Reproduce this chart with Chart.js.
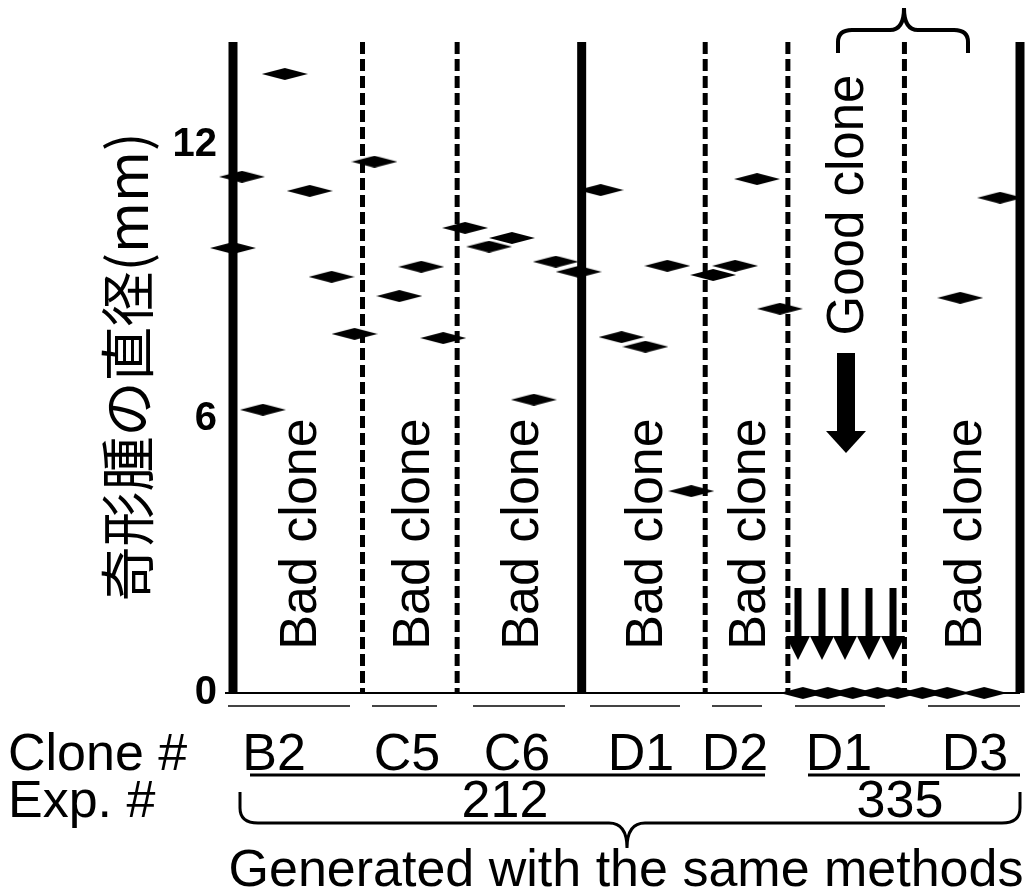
<!DOCTYPE html>
<html>
<head>
<meta charset="utf-8">
<script src="https://cdn.jsdelivr.net/npm/chart.js@4.4.1/dist/chart.umd.min.js"></script>
<style>
  html, body { margin: 0; padding: 0; background: #fff; }
</style>
</head>
<body>
<canvas id="grafico" width="1027" height="896"></canvas>
<script>
// clones, left to right
var clones = ['B2', 'C5', 'C6', 'D1', 'D2', 'D1', 'D3'];
var laneLabels = ['Bad clone', 'Bad clone', 'Bad clone', 'Bad clone', 'Bad clone', 'Good clone', 'Bad clone'];
var experiments = ['212', '335'];
var laneEdges = [0, 13, 22.5, 35, 47.4, 55.7, 67.4, 79];
var yTicks = [0, 6, 12];

// tumour diameter (mm) per mouse; x = spot inside the lane
var tumorX = [
  5.2, 0.9, 7.7, 0.0, 9.9, 12.2, 3.0,          // B2
  14.2, 16.7, 18.9, 21.1,                      // C5
  23.3, 28.0, 25.7, 32.4, 34.7, 30.2,          // C6
  36.9, 39.0, 41.4, 43.6, 46.0,                // D1
  48.2, 50.4, 52.6, 54.9,                      // D2
  57.2, 59.7, 62.2, 64.7, 66.7,                // D1 (335)
  69.2, 71.7, 75.4, 73.0, 77.0                 // D3
];
var tumorY = [
  13.55, 11.3, 10.99, 9.74, 9.11, 7.86, 6.2,
  11.63, 8.69, 9.33, 7.77,
  10.18, 9.96, 9.77, 9.44, 9.22, 6.42,
  11.01, 7.79, 7.58, 9.35, 4.42,
  9.15, 9.35, 11.25, 8.41,
  0, 0, 0, 0, 0,
  0, 0, 0, 8.65, 10.84
];

function makeDiamond(w, h) {
  var c = document.createElement('canvas');
  c.width = w; c.height = h;
  var g = c.getContext('2d');
  g.fillStyle = '#000';
  g.beginPath();
  g.moveTo(0, h / 2);
  g.lineTo(w / 2, 0);
  g.lineTo(w, h / 2);
  g.lineTo(w / 2, h);
  g.closePath();
  g.fill();
  return c;
}

function rotatedText(ctx, text, cx, cy, size) {
  ctx.save();
  ctx.translate(cx, cy);
  ctx.rotate(-Math.PI / 2);
  ctx.font = size + 'px "Liberation Sans", Arial, sans-serif';
  ctx.textAlign = 'center';
  ctx.textBaseline = 'alphabetic';
  ctx.fillText(text, 0, size * 0.36);
  ctx.restore();
}

function plainText(ctx, text, x, y, align) {
  ctx.textAlign = align;
  ctx.fillText(text, x, y);
}

// lanes: solid and dashed separators, baseline, labels
var lanePlugin = {
  id: 'lanes',
  beforeDatasetsDraw: function (chart) {
    var ctx = chart.ctx, xs = chart.scales.x, ys = chart.scales.y;
    var top = chart.chartArea.top, bottom = ys.getPixelForValue(0);
    ctx.save();
    ctx.strokeStyle = '#000';
    // baseline at 0
    ctx.lineWidth = 2;
    ctx.beginPath();
    ctx.moveTo(xs.getPixelForValue(laneEdges[0]) - 8, bottom);
    ctx.lineTo(xs.getPixelForValue(laneEdges[laneEdges.length - 1]), bottom);
    ctx.stroke();
    laneEdges.forEach(function (v, i) {
      var px = xs.getPixelForValue(v);
      var solid = (i === 0 || i === 3 || i === laneEdges.length - 1);
      ctx.beginPath();
      if (solid) { ctx.setLineDash([]); ctx.lineWidth = 9; }
      else { ctx.setLineDash([12, 5]); ctx.lineWidth = 5; }
      ctx.moveTo(px, top);
      ctx.lineTo(px, bottom);
      ctx.stroke();
    });
    ctx.setLineDash([]);
    // faint underline pieces under the axis
    ctx.strokeStyle = '#444';
    ctx.lineWidth = 2;
    [[228, 350], [372, 437], [473, 565], [590, 680], [712, 762], [795, 885], [928, 1020]].forEach(function (s) {
      ctx.beginPath();
      ctx.moveTo(s[0], bottom + 13);
      ctx.lineTo(s[1], bottom + 13);
      ctx.stroke();
    });
    ctx.restore();
  },
  afterDraw: function (chart) {
    var ctx = chart.ctx, xs = chart.scales.x;
    ctx.save();
    ctx.fillStyle = '#000';
    ctx.strokeStyle = '#000';

    // y axis title
    ctx.save();
    ctx.translate(127, 367);
    ctx.rotate(-Math.PI / 2);
    ctx.font = '55px "Noto Sans CJK JP", sans-serif';
    ctx.textAlign = 'center';
    ctx.textBaseline = 'middle';
    ctx.fillText('奇形腫の直径(mm)', 0, 0);
    ctx.restore();

    // lane labels
    laneLabels.forEach(function (t, i) {
      var cx = (xs.getPixelForValue(laneEdges[i]) + xs.getPixelForValue(laneEdges[i + 1])) / 2;
      if (t === 'Good clone') rotatedText(ctx, t, cx - 2, 205, 51);
      else rotatedText(ctx, t, cx, 534, 52);
    });

    // big arrow under "Good clone"
    ctx.fillRect(837, 353, 18, 80);
    ctx.beginPath();
    ctx.moveTo(826, 431); ctx.lineTo(866, 431); ctx.lineTo(846, 453); ctx.closePath();
    ctx.fill();

    // five small arrows pointing to the zero tumours
    [798, 822, 845, 869, 893].forEach(function (x) {
      ctx.fillRect(x - 3.5, 588, 7, 50);
      ctx.beginPath();
      ctx.moveTo(x - 12, 636); ctx.lineTo(x + 12, 636); ctx.lineTo(x, 660); ctx.closePath();
      ctx.fill();
    });

    // top brace
    ctx.lineWidth = 4;
    ctx.beginPath();
    ctx.moveTo(838, 53);
    ctx.lineTo(838, 42);
    ctx.quadraticCurveTo(838, 30, 852, 30);
    ctx.lineTo(890, 30);
    ctx.quadraticCurveTo(904, 30, 904, 8);
    ctx.quadraticCurveTo(904, 30, 918, 30);
    ctx.lineTo(954, 30);
    ctx.quadraticCurveTo(968, 30, 968, 42);
    ctx.lineTo(968, 53);
    ctx.stroke();

    // bottom labels
    ctx.font = '52px "Liberation Sans", Arial, sans-serif';
    ctx.textBaseline = 'alphabetic';
    plainText(ctx, 'Clone #', 8, 770, 'left');
    plainText(ctx, 'Exp. #', 8, 817, 'left');
    var cloneX = [274, 407, 517, 641, 735, 839, 975];
    clones.forEach(function (c, i) { plainText(ctx, c, cloneX[i], 770, 'center'); });
    plainText(ctx, experiments[0], 505, 817, 'center');
    plainText(ctx, experiments[1], 900, 817, 'center');

    ctx.lineWidth = 3;
    ctx.beginPath();
    ctx.moveTo(250, 775); ctx.lineTo(765, 775);
    ctx.moveTo(808, 775); ctx.lineTo(1020, 775);
    ctx.stroke();

    // bottom brace
    ctx.lineWidth = 3;
    ctx.beginPath();
    ctx.moveTo(240, 792);
    ctx.lineTo(240, 808);
    ctx.quadraticCurveTo(240, 823, 258, 823);
    ctx.lineTo(609, 823);
    ctx.quadraticCurveTo(627, 823, 627, 848);
    ctx.quadraticCurveTo(627, 823, 645, 823);
    ctx.lineTo(1002, 823);
    ctx.quadraticCurveTo(1020, 823, 1020, 808);
    ctx.lineTo(1020, 792);
    ctx.stroke();

    plainText(ctx, 'Generated with the same methods', 626, 886, 'center');
    ctx.restore();
  }
};

var points = tumorX.map(function (x, i) { return { x: x, y: tumorY[i] }; });

var ctx = document.getElementById('grafico').getContext('2d');
new Chart(ctx, {
  type: 'scatter',
  data: {
    datasets: [{
      data: points,
      pointStyle: makeDiamond(46, 12),
      pointRadius: 6,
      backgroundColor: '#000',
      borderColor: '#000',
      clip: false
    }]
  },
  options: {
    responsive: false,
    animation: false,
    events: [],
    layout: { padding: { top: 42, right: 4, bottom: 203, left: 0 } },
    plugins: { legend: { display: false }, tooltip: { enabled: false } },
    scales: {
      x: { type: 'linear', min: 0, max: 79, display: false },
      y: {
        min: 0,
        max: 14.25,
        afterBuildTicks: function (s) { s.ticks = yTicks.map(function (v) { return { value: v }; }); },
        afterFit: function (s) { s.width = 233; },
        grid: { display: false, drawTicks: false },
        border: { display: false },
        ticks: {
          color: '#000',
          padding: 16,
          font: { family: '"Liberation Sans", Arial', weight: 'bold', size: 40 }
        }
      }
    }
  },
  plugins: [lanePlugin]
});
</script>
</body>
</html>
